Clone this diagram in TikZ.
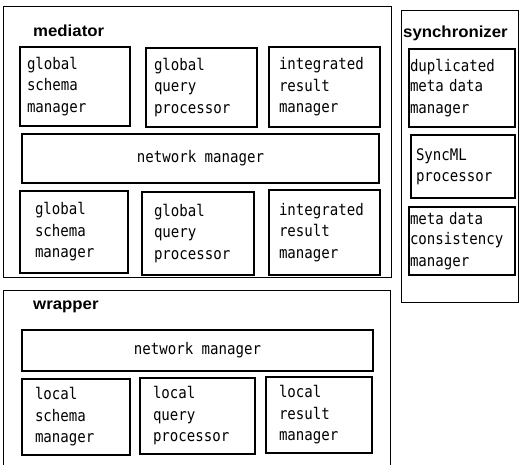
\documentclass[tikz,border=0pt]{standalone}
\usepackage{fontspec}
\setmainfont{DejaVu Sans Mono}[FakeStretch=0.88]
\newfontfamily\lblfont{Liberation Sans}[FakeStretch=1.05]
\newcommand{\modnode}[8]{\node[mod, inner xsep=#6pt, minimum width=#4pt, minimum height=#5pt, text width=#7pt] (#1) at (#2,#3) {#8};}
\begin{document}
\begin{tikzpicture}[x=1pt,y=-1pt,
  outer/.style={draw, line width=0.8pt, anchor=north west, inner sep=0pt, outer sep=0pt},
  mod/.style={draw, line width=1.3pt, anchor=north west, align=left, outer sep=0pt, inner ysep=0pt,
    font=\fontsize{16}{21.5}\selectfont},
  netw/.style={draw, line width=1.3pt, anchor=north west, inner sep=0pt, outer sep=0pt,
    font=\fontsize{16}{21}\selectfont},
  lbl/.style={anchor=north west, inner sep=0pt, font=\lblfont\bfseries\fontsize{16}{18}\selectfont}]
\useasboundingbox (0,0) rectangle (521,464);
% mediator
\node[outer, minimum width=388pt, minimum height=271pt] (med) at (3,6) {};
\node[lbl] (medl) at (33,25) {mediator};
\modnode{gsma}{20}{47}{110}{79}{7}{96}{global\\schema\\manager}
\modnode{gqpa}{146}{48}{111}{79}{8}{95}{global\\query\\processor}
\modnode{irma}{269}{47}{111}{80}{10}{91}{integrated\\result\\manager}
\node[netw, minimum width=357pt, minimum height=49pt] (nma) at (22,134) {network manager};
\modnode{gsmb}{20}{191}{108}{82}{15}{78}{global\\schema\\manager}
\modnode{gqpb}{142}{192}{112}{83}{12}{88}{global\\query\\processor}
\modnode{irmb}{269}{190}{111}{85}{10}{91}{integrated\\result\\manager}
% synchronizer
\node[outer, minimum width=117pt, minimum height=292pt] (syn) at (401,10) {};
\node[lbl] (synl) at (403,26) {synchronizer};
\modnode{dmd}{409}{49}{106}{78}{1}{104}{\baselineskip=20pt duplicated\\meta data\\manager}
\modnode{sml}{411}{135}{104}{63}{5}{94}{SyncML\\processor}
\modnode{mdc}{409}{207}{106}{68}{1}{104}{\baselineskip=20pt meta data\\consistency\\manager}
% wrapper
\node[outer, minimum width=387pt, minimum height=190pt] (wrp) at (3,290) {};
\node[lbl] (wrpl) at (33,301) {wrapper};
\node[netw, minimum width=351pt, minimum height=41pt] (nmb) at (22,330) {network manager};
\modnode{lsm}{22}{379}{108}{76}{13}{82}{local\\schema\\manager}
\modnode{lqp}{140}{378}{115}{76}{13}{89}{local\\query\\processor}
\modnode{lrm}{266}{377}{106}{76}{13}{80}{local\\result\\manager}
\end{tikzpicture}
\end{document}
